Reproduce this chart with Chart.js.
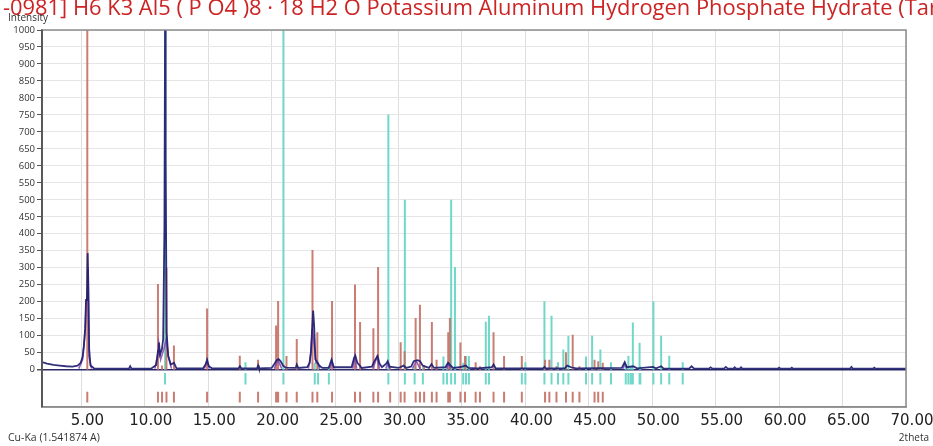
<!DOCTYPE html>
<html>
<head>
<meta charset="utf-8">
<script src="https://cdn.jsdelivr.net/npm/chart.js@4.4.1/dist/chart.umd.min.js"></script>
<style>
  html, body { margin: 0; padding: 0; background: #fff; }
</style>
</head>
<body>
<canvas id="xrd" width="933" height="446"></canvas>
<script>
// --- axis ticks ---
const xTicks = [5, 10, 15, 20, 25, 30, 35, 40, 45, 50, 55, 60, 65, 70];
const yTicks = [0, 50, 100, 150, 200, 250, 300, 350, 400, 450, 500, 550, 600, 650, 700, 750, 800, 850, 900, 950, 1000];

// --- measured pattern (2theta, intensity) ---
const measX = [1.9, 2.3, 2.8, 3.3, 3.8, 4.3, 4.7, 4.95, 5.1, 5.2, 5.3, 5.37, 5.44, 5.5, 5.56, 5.62, 5.72, 6.0, 7.0,
  8.75, 8.85, 8.95, 10.5, 10.9, 11.05, 11.12, 11.2, 11.35, 11.45, 11.55, 11.6, 11.65, 11.72, 11.85, 12.05, 12.3, 12.5,
  14.6, 14.8, 14.91, 15.05, 15.3, 17.4, 17.5, 17.6, 18.85, 18.93, 19.0, 20.0, 20.2, 20.4, 20.55, 20.7, 20.9, 21.1,
  21.9, 21.98, 22.1, 22.8, 23.0, 23.1, 23.2, 23.27, 23.35, 23.45, 23.6, 23.75, 24.0, 24.5, 24.72, 24.9,
  26.3, 26.5, 26.6, 26.75, 26.95, 27.1, 27.9, 28.1, 28.35, 28.5, 28.7, 29.05, 29.15, 29.3, 30.0, 30.4, 30.6,
  31.0, 31.2, 31.5, 31.7, 31.9, 32.4, 32.6, 32.8, 33.7, 33.9, 34.05, 34.3, 34.8, 35.3, 35.5, 36.2, 37.35, 37.5, 37.65,
  41.4, 41.5, 41.6, 43.1, 43.3, 43.6, 44.0, 47.6, 47.83, 48.0, 48.5, 48.8, 50.05, 50.3, 50.7, 50.9,
  52.9, 53.1, 53.3, 54.45, 54.6, 54.75, 55.65, 55.8, 55.95, 56.4, 56.5, 56.6, 56.9, 57.0, 57.1,
  59.9, 60.0, 60.1, 60.9, 61.0, 61.1, 65.6, 65.7, 65.8, 67.4, 67.5, 67.6, 70];
const measY = [22, 18, 14, 12, 10, 9, 12, 20, 38, 70, 120, 205, 212, 343, 240, 60, 12, 4, 3,
  3, 10, 3, 3, 14, 55, 80, 45, 60, 90, 420, 1000, 620, 110, 40, 15, 20, 4,
  4, 16, 29, 10, 4, 4, 10, 4, 4, 12, 4, 5, 16, 28, 31, 25, 12, 6,
  5, 15, 5, 7, 20, 54, 125, 174, 130, 30, 22, 12, 5, 5, 29, 7,
  7, 35, 41, 20, 12, 5, 9, 25, 40, 18, 7, 18, 25, 9, 5, 12, 5,
  9, 25, 28, 25, 12, 5, 16, 5, 7, 20, 14, 5, 7, 12, 5, 4, 7, 15, 4,
  4, 8, 4, 4, 12, 7, 4, 5, 22, 7, 10, 4, 8, 4, 10, 3,
  3, 10, 3, 3, 7, 3, 3, 8, 3, 3, 7, 3, 3, 7, 3,
  3, 6, 3, 3, 6, 3, 3, 8, 3, 3, 6, 3, 3];

// --- calculated profile (only around the peaks; null = gap) ---
const calcX = [4.8, 5.1, 5.3, 5.38, 5.45, 5.52, 5.6, 5.8, 5.81, 10.8, 11.0, 11.1, 11.25, 11.5, 11.7, 11.85, 12.1, 12.11,
  14.7, 14.9, 15.1, 15.11, 20.2, 20.5, 20.8, 20.81, 22.9, 23.1, 23.2, 23.3, 23.5, 23.65, 23.8, 23.81, 24.6, 24.75, 24.9, 24.91,
  26.4, 26.55, 26.7, 26.71, 28.0, 28.3, 28.5, 28.51, 29.0, 29.15, 29.3, 29.31, 31.1, 31.4, 31.7, 31.71,
  33.8, 33.95, 34.1, 34.11, 47.7, 47.85, 48.0];
const calcY = [3, 30, 110, 200, 210, 300, 40, 3, null, 3, 40, 78, 30, 60, 90, 40, 3, null,
  3, 25, 3, null, 3, 28, 3, null, 3, 50, 120, 90, 20, 18, 3, null, 3, 25, 3, null,
  3, 40, 3, null, 3, 38, 3, null, 3, 18, 3, null, 3, 25, 3, null,
  3, 18, 3, null, 3, 18, 3];

// --- phase 1 (red) reference lines ---
const redPos = [5.47, 11.04, 11.36, 11.71, 12.3, 14.91, 17.49, 18.93, 20.35, 20.43, 20.51, 21.17, 21.98, 23.22, 23.6,
  24.76, 26.57, 26.97, 28.02, 28.39, 29.34, 30.17, 30.48, 31.35, 31.69, 32.02, 32.63, 33.0, 33.92, 34.05, 34.88,
  35.24, 36.08, 36.42, 37.49, 38.32, 39.72, 41.55, 41.89, 42.45, 43.2, 43.73, 44.26, 45.45, 45.74, 46.1];
const redInt = [1000, 252, 12, 300, 71, 180, 41, 29, 130, 15, 202, 40, 90, 352, 110,
  202, 251, 140, 122, 302, 10, 81, 54, 152, 191, 12, 140, 29, 110, 152, 80,
  40, 22, 10, 110, 40, 40, 29, 29, 10, 51, 103, 10, 29, 25, 20];

// --- phase 2 (cyan) reference lines ---
const cyanPos = [11.6, 17.94, 20.93, 23.4, 23.66, 24.51, 29.2, 30.5, 31.27, 31.92, 33.54, 33.82, 34.15, 34.45, 35.1,
  35.32, 35.55, 36.88, 37.13, 39.72, 40.0, 41.5, 42.06, 42.57, 42.99, 43.39, 44.78, 45.26, 45.91, 46.75, 47.91,
  48.12, 48.31, 48.47, 49.0, 49.06, 50.09, 50.7, 51.34, 52.4];
const cyanInt = [1000, 22, 1000, 20, 22, 10, 751, 500, 10, 10, 39, 15, 500, 302, 20,
  40, 40, 141, 159, 10, 22, 201, 159, 22, 59, 100, 39, 100, 59, 22, 10,
  41, 10, 139, 79, 10, 201, 100, 41, 22];

const titleHead = '-';
const titleBody = '0981] H6 K3 Al5 ( P O4 )8 \u00b7 18 H2 O Potassium Aluminum Hydrogen Phosphate Hydrate';
const titleTail = ' (Taranakite)';

function zip(xs, ys) { return xs.map((x, i) => ({ x: x, y: ys[i] })); }

// vertical segments separated by gaps
function sticks(pos, vals) {
    const pts = [];
    pos.forEach((p, i) => { pts.push({ x: p, y: 0 }, { x: p, y: vals[i] }, { x: p, y: null }); });
    return pts;
}
function marks(pos, y0, y1) {
    const pts = [];
    pos.forEach(p => { pts.push({ x: p, y: y0 }, { x: p, y: y1 }, { x: p, y: null }); });
    return pts;
}

const lineBase = { pointRadius: 0, tension: 0, fill: false, spanGaps: false };

const frame = {
    id: 'frame',
    afterDraw(chart) {
        const { ctx, chartArea: a } = chart;
        ctx.save();
        ctx.strokeStyle = '#8c8c8c';
        ctx.lineWidth = 1.5;
        ctx.strokeRect(a.left, a.top, a.right - a.left, a.bottom - a.top);
        ctx.strokeStyle = '#4a4a4a';
        ctx.beginPath(); ctx.moveTo(a.left, a.top); ctx.lineTo(a.left, a.bottom); ctx.stroke();

        // title: scale so the body text runs from x=10 to x=893 like the reference
        ctx.font = '22px "Open Sans"';
        const w = ctx.measureText(titleBody).width;
        const size = 22 * 883 / w;
        ctx.font = size.toFixed(2) + 'px "Open Sans"';
        const hw = ctx.measureText(titleHead).width;
        ctx.fillStyle = '#cc2424';
        ctx.textBaseline = 'alphabetic';
        ctx.fillText(titleHead + titleBody + titleTail, 10 - hw, 15);

        ctx.fillStyle = '#333';
        ctx.font = '10px "Open Sans"';
        ctx.fillText('Intensity', 8, 21);
        ctx.font = '10.5px "Open Sans"';
        ctx.fillText('Cu-Ka (1.541874 A)', 8, 441);
        ctx.textAlign = 'right';
        ctx.font = '10px "Open Sans"';
        ctx.fillText('2theta', 929, 441);
        ctx.restore();
    }
};

new Chart(document.getElementById('xrd'), {
    type: 'line',
    data: {
        datasets: [
            { ...lineBase, data: zip(measX, measY), borderColor: 'rgba(32,30,112,0.92)', borderWidth: 1.8, order: 0 },
            { ...lineBase, data: zip(calcX, calcY), borderColor: 'rgba(128,70,180,0.85)', borderWidth: 1.6, order: 1 },
            { ...lineBase, data: sticks(redPos, redInt), borderColor: 'rgba(196,112,100,0.9)', borderWidth: 2, order: 2 },
            { ...lineBase, data: sticks(cyanPos, cyanInt), borderColor: 'rgba(104,214,198,0.95)', borderWidth: 2, order: 3 },
            { ...lineBase, data: marks(cyanPos, -10, -44), borderColor: 'rgba(104,214,198,0.95)', borderWidth: 2, order: 4 },
            { ...lineBase, data: marks(redPos, -65, -97), borderColor: 'rgba(196,112,100,0.9)', borderWidth: 2, order: 4 }
        ]
    },
    options: {
        responsive: false,
        animation: false,
        layout: { padding: { top: 30, right: 27, bottom: 0, left: 0 } },
        plugins: { legend: { display: false }, tooltip: { enabled: false } },
        scales: {
            x: {
                type: 'linear', min: 1.9, max: 70,
                afterBuildTicks: s => { s.ticks = xTicks.map(v => ({ value: v })); },
                afterFit: s => { s.height = 39; },
                ticks: { callback: v => v.toFixed(2), font: { family: 'DejaVu Sans', size: 15 }, color: '#222',
                         labelOffset: 6, padding: 5, maxRotation: 0, autoSkip: false },
                grid: { color: '#dedede', drawTicks: false },
                border: { color: '#8c8c8c', width: 1.5 }
            },
            y: {
                min: -110, max: 1000,
                afterBuildTicks: s => { s.ticks = yTicks.map(v => ({ value: v })); },
                afterFit: s => { s.width = 42; },
                ticks: { callback: v => String(v), font: { family: 'Open Sans', size: 9.5 }, color: '#333', padding: 2, autoSkip: false },
                grid: {
                    color: c => (c.tick && c.tick.value === 0 ? '#2c2a66' : '#e6e6e6'),
                    lineWidth: c => (c.tick && c.tick.value === 0 ? 1.5 : 1),
                    tickColor: '#555', tickLength: 5
                },
                border: { color: '#4a4a4a', width: 1.5 }
            }
        }
    },
    plugins: [frame]
});
</script>
</body>
</html>
